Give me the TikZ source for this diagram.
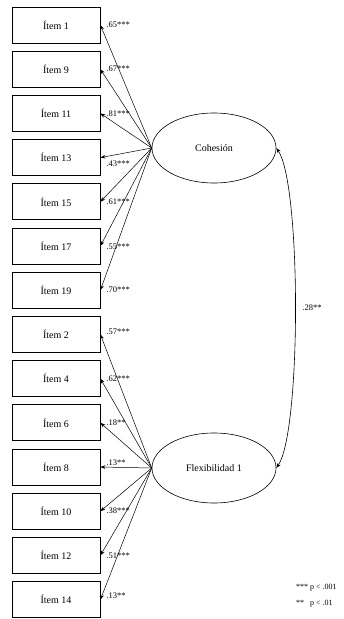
\documentclass[tikz,border=0pt]{standalone}
\usepackage{fontspec}
\setmainfont{Liberation Serif}
\usetikzlibrary{arrows.meta,shapes.geometric}
\begin{document}
\begin{tikzpicture}[x=1pt,y=-1pt,
  itembox/.style={draw, line width=0.8pt, minimum width=88pt, minimum height=36pt, inner sep=0pt, font=\fontsize{10}{12}\selectfont},
  latent/.style={draw, ellipse, line width=0.6pt, minimum width=124pt, minimum height=70pt, inner sep=0pt, font=\fontsize{10}{12}\selectfont},
  load/.style={-{Stealth[length=5pt,width=3.6pt]}, line width=0.5pt},
  coef/.style={anchor=west, inner sep=0pt, font=\fontsize{8.5}{10}\selectfont},
  corr/.style={{Stealth[length=5pt,width=3.6pt]}-{Stealth[length=5pt,width=3.6pt]}, line width=0.6pt}]
\useasboundingbox (0,0) rectangle (344,619);
\node[latent] (coh) at (214,148) {Cohesión};
\node[latent] (flex) at (214,468) {Flexibilidad 1};
\foreach \t/\c/\dy [count=\k] in {
  1/.65***/0, 9/.67***/0, 11/.81***/0, 13/.43***/-6, 15/.61***/0, 17/.55***/-1, 19/.70***/0,
  2/.57***/3, 4/.62***/0, 6/.18**/0, 8/.13**/4, 10/.38***/0, 12/.51***/0, 14/.13**/4}
{
  \node[itembox] (i\k) at (56,{25+(\k-1)*44.2}) {Ítem \t};
  \node[coef] (c\k) at ([xshift=6pt,yshift=\dy pt]i\k.east) {\c};
}
\foreach \k in {1,...,7} { \draw[load] (coh.west) -- (i\k.east); }
\foreach \k in {8,...,14} { \draw[load] (flex.west) -- (i\k.east); }
\draw[corr] (coh.east) to[out=-55,in=55,looseness=0.35] node[right=7pt, font=\fontsize{8.5}{10}\selectfont, inner sep=0pt] (r) {.28**} (flex.east);
\node[anchor=west, inner sep=0pt, font=\fontsize{8}{16}\selectfont] (leg) at (296,594)
  {\begin{tabular}{@{}l@{\ }l@{}}*** & p < .001\\ {**} & p < .01\end{tabular}};
\end{tikzpicture}
\end{document}
